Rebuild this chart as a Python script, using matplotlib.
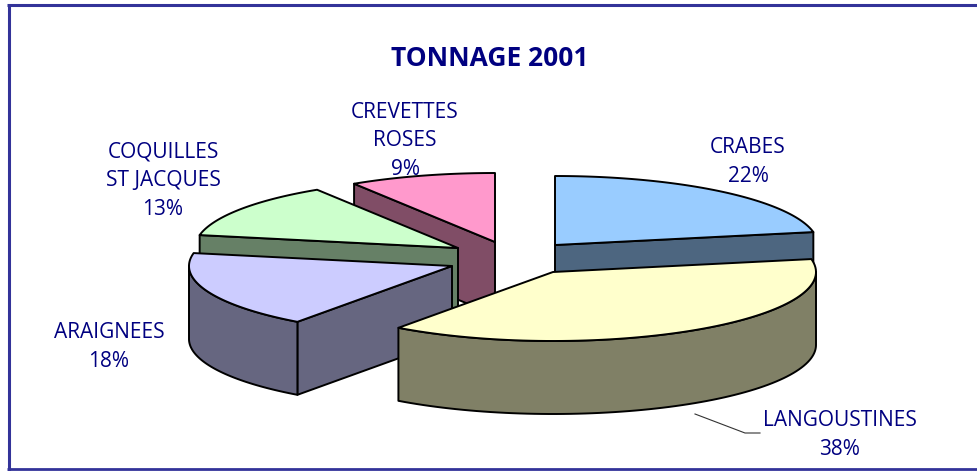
import numpy as np
import matplotlib
matplotlib.use('Agg')
import matplotlib.pyplot as plt
from matplotlib.patches import Polygon

# Data
names = ['CRABES', 'LANGOUSTINES', 'ARAIGNEES', 'COQUILLES\nST JACQUES', 'CREVETTES\nROSES']
shares = [22, 38, 18, 13, 9]
title = 'TONNAGE 2001'

# Colours
top_colors = ['#99CCFF', '#FFFFCC', '#CCCCFF', '#CCFFCC', '#FF99CC']
side_colors = ['#4D6680', '#808066', '#666680', '#668066', '#804D66']
ink = '#000080'

# Layout, in pixels of the picture
centers = [(555, 245), (553, 272), (452, 266), (458, 248), (495, 242)]
label_xy = [(748, 162), (840, 435), (109, 347), (163, 181), (405, 141)]
rx = 263
ry = 69
depth = 73

# Slices are drawn back to front
draw_order = [4, 3, 0, 2, 1]

fig = plt.figure(figsize=(9.78, 4.71), dpi=100)
ax = fig.add_axes([0, 0, 1, 1])
ax.set_xlim(0, 978)
ax.set_ylim(471, 0)
ax.axis('off')

# Frame, there is no right side in the picture
ax.plot([8.5, 8.5], [4.5, 471], color='#333399', lw=2.2, solid_capstyle='butt')
ax.plot([7, 978], [4.5, 4.5], color='#333399', lw=2.2, solid_capstyle='butt')
ax.plot([7, 978], [469, 469], color='#333399', lw=2, solid_capstyle='butt')

ends = np.cumsum(shares) / np.sum(shares) * 360
starts = np.concatenate([[0], ends[:-1]])


def rim(c, a, b, drop=0):
    t = np.radians(np.linspace(a, b, 80))
    return np.column_stack([c[0] + rx * np.sin(t), c[1] - ry * np.cos(t) + drop])


def face(c, a):
    p = rim(c, a, a)[0]
    return [c, p, (p[0], p[1] + depth), (c[0], c[1] + depth)]


for i in draw_order:
    c = centers[i]
    a, b = starts[i], ends[i]
    style = dict(edgecolor='black', lw=1.4, joinstyle='round')

    # Cut faces turned to the viewer
    if np.cos(np.radians(a - 90)) < -1e-6:
        ax.add_patch(Polygon(face(c, a), facecolor=side_colors[i], **style))
    if np.cos(np.radians(b + 90)) < -1e-6:
        ax.add_patch(Polygon(face(c, b), facecolor=side_colors[i], **style))

    # Outer wall, only the front half of the rim shows
    lo, hi = max(a, 90), min(b, 270)
    if lo < hi:
        wall = np.vstack([rim(c, lo, hi), rim(c, hi, lo, depth)])
        ax.add_patch(Polygon(wall, facecolor=side_colors[i], **style))

    # Top
    ax.add_patch(Polygon(np.vstack([[c], rim(c, a, b)]), facecolor=top_colors[i], **style))

# Leader line of LANGOUSTINES
ax.plot([695, 745, 760], [414, 433, 433], color='#333333', lw=0.8)

for name, share, (x, y) in zip(names, shares, label_xy):
    ax.text(x, y, f'{name}\n{share}%', color=ink, fontsize=15, family='Open Sans',
            ha='center', va='center', linespacing=1.47)

ax.text(490, 59, title, color=ink, fontsize=19, family='Open Sans', fontweight='bold',
        ha='center', va='center')

fig.savefig('out.png', dpi=100)
